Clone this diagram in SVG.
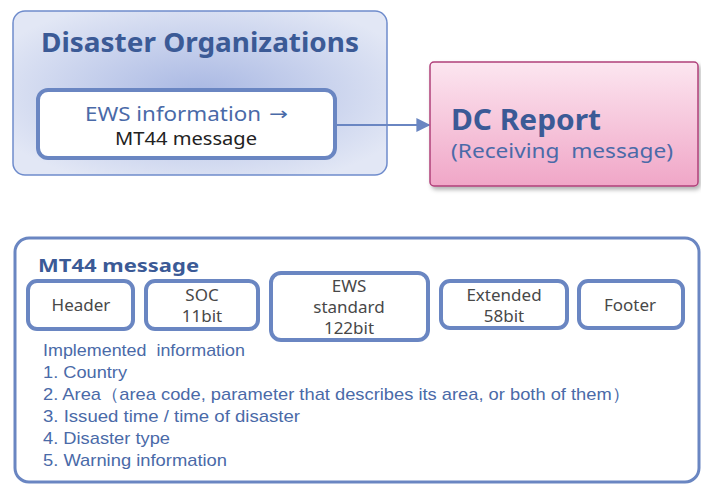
<svg xmlns="http://www.w3.org/2000/svg" width="701" height="484" viewBox="0 0 701 484">
  <defs>
    <radialGradient id="orgFill" cx="0.5" cy="0.5" r="0.6">
      <stop offset="0" stop-color="#a9b8e3"/>
      <stop offset="1" stop-color="#e2e7f5"/>
    </radialGradient>
    <linearGradient id="dcFill" x1="0" y1="0" x2="0" y2="1">
      <stop offset="0" stop-color="#fce6f0"/>
      <stop offset="1" stop-color="#f0a6c7"/>
    </linearGradient>
    <filter id="shadow" x="-10%" y="-10%" width="130%" height="140%">
      <feDropShadow dx="2" dy="3" stdDeviation="2" flood-color="#000" flood-opacity="0.3"/>
    </filter>
    <marker id="arrow" viewBox="0 0 10 10" refX="9" refY="5" markerWidth="7" markerHeight="7" orient="auto">
      <path d="M0,0 L10,5 L0,10 z" fill="#6a86c2"/>
    </marker>
  </defs>
  <style>
    .title { font-family: "Noto Sans", "Liberation Sans", sans-serif; font-weight: bold; fill: #3b5a96; }
    .blue { font-family: "Noto Sans", "Liberation Sans", sans-serif; fill: #4a6aa8; }
    .dark { font-family: "Noto Sans", "Liberation Sans", sans-serif; fill: #222; }
    .sym { font-family: "DejaVu Sans", sans-serif; fill: #4a6aa8; }
    .field { fill: #fff; stroke: #6a86c2; stroke-width: 4; }
    .ftext { font-family: "Noto Sans", "Liberation Sans", sans-serif; font-size: 17px; fill: #484848; text-anchor: middle; }
    .info { font-family: "Liberation Sans", "Noto Sans", sans-serif; font-size: 17px; fill: #4a6aa8; }
  </style>

  <rect width="701" height="484" fill="#fff"/>

  <g id="disaster-organizations">
    <rect x="13" y="11" width="374" height="164" rx="12" fill="url(#orgFill)" stroke="#6f8ccc" stroke-width="1.5"/>
    <text class="title" x="41" y="52" font-size="26" textLength="318" lengthAdjust="spacingAndGlyphs">Disaster Organizations</text>
  </g>

  <g id="ews-information">
    <rect x="38" y="90" width="297" height="68" rx="10" fill="#fff" stroke="#6a86c2" stroke-width="4"/>
    <text class="blue" x="85" y="121" font-size="20" textLength="176" lengthAdjust="spacingAndGlyphs">EWS information</text>
    <text class="sym" x="269" y="120" font-size="18" textLength="19" lengthAdjust="spacingAndGlyphs">→</text>
    <text class="dark" x="115" y="145" font-size="18" textLength="142" lengthAdjust="spacingAndGlyphs">MT44 message</text>
  </g>

  <g id="connectors">
    <line x1="335" y1="125" x2="429" y2="125" stroke="#6a86c2" stroke-width="2" marker-end="url(#arrow)"/>
  </g>

  <g id="dc-report">
    <rect x="430" y="62" width="268" height="124" rx="4" fill="url(#dcFill)" stroke="#b0407a" stroke-width="1.5" filter="url(#shadow)"/>
    <text class="title" x="451" y="130" font-size="28" textLength="150" lengthAdjust="spacingAndGlyphs">DC Report</text>
    <text class="blue" x="451" y="158" font-size="20" textLength="222" lengthAdjust="spacingAndGlyphs" xml:space="preserve">(Receiving  message)</text>
  </g>

  <g id="mt44-message">
    <rect x="15" y="238" width="684" height="244" rx="14" fill="#fff" stroke="#6a86c2" stroke-width="3"/>
    <text class="title" x="38" y="272" font-size="18" textLength="161" lengthAdjust="spacingAndGlyphs">MT44 message</text>
  </g>

  <g id="field-header">
    <rect class="field" x="28" y="281" width="105" height="48" rx="9"/>
    <text class="ftext" x="81" y="311">Header</text>
  </g>

  <g id="field-soc">
    <rect class="field" x="146" y="281" width="112" height="48" rx="9"/>
    <text class="ftext" x="202" y="301">SOC</text>
    <text class="ftext" x="202" y="322">11bit</text>
  </g>

  <g id="field-ews-standard">
    <rect class="field" x="271" y="273" width="157" height="67" rx="10"/>
    <text class="ftext" x="349" y="292">EWS</text>
    <text class="ftext" x="349" y="313">standard</text>
    <text class="ftext" x="349" y="334">122bit</text>
  </g>

  <g id="field-extended">
    <rect class="field" x="441" y="281" width="126" height="47" rx="9"/>
    <text class="ftext" x="504" y="301">Extended</text>
    <text class="ftext" x="504" y="322">58bit</text>
  </g>

  <g id="field-footer">
    <rect class="field" x="579" y="281" width="104" height="47" rx="9"/>
    <text class="ftext" x="630" y="311">Footer</text>
  </g>

  <g id="implemented-information">
    <text class="info" x="43" y="356" textLength="202" lengthAdjust="spacingAndGlyphs" xml:space="preserve">Implemented  information</text>
    <text class="info" x="43" y="378" textLength="84" lengthAdjust="spacingAndGlyphs">1. Country</text>
    <text class="info" x="43" y="400" textLength="587" lengthAdjust="spacingAndGlyphs">2. Area（area code, parameter that describes its area, or both of them）</text>
    <text class="info" x="43" y="422" textLength="257" lengthAdjust="spacingAndGlyphs">3. Issued time / time of disaster</text>
    <text class="info" x="43" y="444" textLength="127" lengthAdjust="spacingAndGlyphs">4. Disaster type</text>
    <text class="info" x="43" y="466" textLength="184" lengthAdjust="spacingAndGlyphs">5. Warning information</text>
  </g>
</svg>
